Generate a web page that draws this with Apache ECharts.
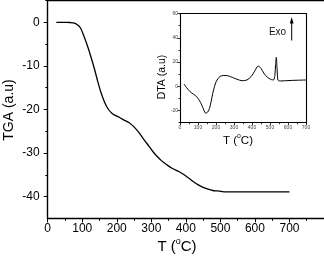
<!DOCTYPE html>
<html><head><meta charset="utf-8">
<script src="https://cdn.jsdelivr.net/npm/echarts@6/dist/echarts.min.js"></script>
<style>html,body{margin:0;padding:0;background:#fff}#c{width:324px;height:258px}</style>
</head><body><div id="c"></div>
<script>
// TGA main curve
const tgaT = [25,40,55,65,75,85,95,105,115,125,135,145,155,165,175,185,195,205,220,235,250,262,275,290,305,317,330,345,360,381,395,409,422,436,450,464,478,491,505,519,560,600,650,700];
const tgaV = [0,0,0,-0.05,-0.15,-0.5,-1.3,-3.2,-5.4,-7.9,-10.6,-13.6,-16.3,-18.4,-19.9,-20.8,-21.35,-21.7,-22.4,-23.0,-24.0,-25.1,-26.5,-28.1,-29.7,-30.8,-31.8,-32.7,-33.5,-34.3,-35.0,-35.8,-36.6,-37.3,-37.9,-38.3,-38.6,-38.7,-38.85,-38.9,-38.9,-38.9,-38.9,-38.9];
// DTA inset curve
const dtaT = [22,35,56,75,93,107,121,132,143,154,164,173,182,192,201,212,223,240,255,270,290,317,345,372,395,415,434,450,466,485,503,515,521,527,531,535,539,544,552,560,600,650,700];
const dtaV = [1.9,-0.8,-4.4,-6.5,-8.6,-11.5,-15.4,-19.5,-22.2,-21.2,-18.1,-12.5,-5.8,0,3.8,6.5,8.2,8.9,8.9,8.5,7.4,5.8,4.6,5.2,8.0,12.5,16.7,14.8,10.7,7.5,5.8,5.3,5.4,9,18,23.9,15,5.2,4.4,4.4,4.7,5.0,5.2];
// tick labels
const mainXLabels = [0,100,200,300,400,500,600,700];
const mainXMinor = [50,150,250,350,450,550,650,750];
const mainYLabels = [-40,-30,-20,-10,0];
const mainYMinor = [-35,-25,-15,-5,5];
const insetXLabels = [0,100,200,300,400,500,600,700];
const insetXMinor = [50,150,250,350,450,550,650];
const insetYLabels = [-20,0,20,40,60];
const insetYMinor = [-30,-10,10,30,50];

const zip = (a,b)=>a.map((v,i)=>[v,b[i]]);
const F = 'Liberation Sans, Arial, sans-serif';
const chart = echarts.init(document.getElementById('c'), null, {renderer:'canvas'});

function xAx(grid, min, max, labels, minor, o){
  return [
    {type:'value', gridIndex:grid, min, max, position:'bottom',
     axisLine:{show:true,onZero:false,lineStyle:{color:'#000',width:o.lw}},
     axisTick:{show:true,customValues:labels,length:o.tl,lineStyle:{color:'#000',width:o.tw}},
     axisLabel:{customValues:labels,fontSize:o.fs,color:o.lc,fontFamily:F,margin:o.lm},
     splitLine:{show:false}},
    {type:'value', gridIndex:grid, min, max, position:'bottom',
     axisLine:{show:false,onZero:false},
     axisTick:{show:true,customValues:minor,length:o.tl*0.6,lineStyle:{color:'#000',width:o.tw}},
     axisLabel:{show:false}, splitLine:{show:false}},
    {type:'value', gridIndex:grid, min, max, position:'top',
     axisLine:{show:true,onZero:false,lineStyle:{color:'#000',width:o.lw}},
     axisTick:{show:false}, axisLabel:{show:false}, splitLine:{show:false}}
  ];
}
function yAx(grid, min, max, labels, minor, o, right){
  const a = [
    {type:'value', gridIndex:grid, min, max, position:'left',
     axisLine:{show:true,onZero:false,lineStyle:{color:'#000',width:o.lw}},
     axisTick:{show:true,customValues:labels,length:o.tl,lineStyle:{color:'#000',width:o.tw}},
     axisLabel:{customValues:labels,fontSize:o.fs,color:o.lc,fontFamily:F,margin:o.ym},
     splitLine:{show:false}},
    {type:'value', gridIndex:grid, min, max, position:'left',
     axisLine:{show:false,onZero:false},
     axisTick:{show:true,customValues:minor,length:o.tl*0.6,lineStyle:{color:'#000',width:o.tw}},
     axisLabel:{show:false}, splitLine:{show:false}}
  ];
  if(right) a.push({type:'value', gridIndex:grid, min, max, position:'right',
     axisLine:{show:true,onZero:false,lineStyle:{color:'#000',width:o.lw}},
     axisTick:{show:false}, axisLabel:{show:false}, splitLine:{show:false}});
  return a;
}
const mo = {lw:1.4,tl:4,tw:1,fs:12,lc:'#000',lm:4,ym:8};
const io = {lw:1.1,tl:2.5,tw:0.8,fs:5,lc:'#444',lm:2,ym:2};
const xs = [...xAx(0,0,800,mainXLabels,mainXMinor,mo), ...xAx(1,0,700,insetXLabels,insetXMinor,io)];
const ys = [...yAx(0,-45,5,mainYLabels,mainYMinor,mo,false), ...yAx(1,-30,60,insetYLabels,insetYMinor,io,true)];

const rich = (fs)=>({n:{fontSize:fs,fontFamily:F,color:'#000'},s:{fontSize:fs*0.6,fontFamily:F,color:'#000',verticalAlign:'top',padding:[0,0,fs*0.75,0]}});
chart.setOption({
  animation:false,
  grid:[
    {left:47.7, top:0.5, width:291.4, height:217.9},
    {left:180, top:13.5, width:126, height:109.2}
  ],
  xAxis: xs,
  yAxis: ys,
  series:[
    {type:'line', xAxisIndex:0, yAxisIndex:0, data:zip(tgaT,tgaV), showSymbol:false, smooth:0.3,
     lineStyle:{color:'#000',width:1.3}},
    {type:'line', xAxisIndex:3, yAxisIndex:2, data:zip(dtaT,dtaV), showSymbol:false, smooth:0.3,
     lineStyle:{color:'#000',width:1}}
  ],
  graphic:[
    {type:'text', x:9.5, y:110, rotation:Math.PI/2, style:{text:'TGA (a.u)', font:'14px '+F, fill:'#000', textAlign:'center', textVerticalAlign:'middle'}},
    {type:'text', x:177, y:247, style:{text:'{n|T (}{s|o}{n|C)}', rich:rich(15), textAlign:'center', textVerticalAlign:'middle'}},
    {type:'text', x:162, y:77, rotation:Math.PI/2, style:{text:'DTA (a.u)', font:'10.5px '+F, fill:'#000', textAlign:'center', textVerticalAlign:'middle'}},
    {type:'text', x:238, y:140.5, style:{text:'{n|T (}{s|o}{n|C)}', rich:rich(11.5), textAlign:'center', textVerticalAlign:'middle'}},
    {type:'text', x:277.5, y:32, style:{text:'Exo', font:'10px '+F, fill:'#111', textAlign:'center', textVerticalAlign:'middle'}},
    {type:'line', shape:{x1:291.7,y1:22,x2:291.7,y2:40.5}, style:{stroke:'#000',lineWidth:1}},
    {type:'polygon', shape:{points:[[291.7,17],[289.8,23.5],[293.6,23.5]]}, style:{fill:'#000'}}
  ]
});
</script></body></html>
